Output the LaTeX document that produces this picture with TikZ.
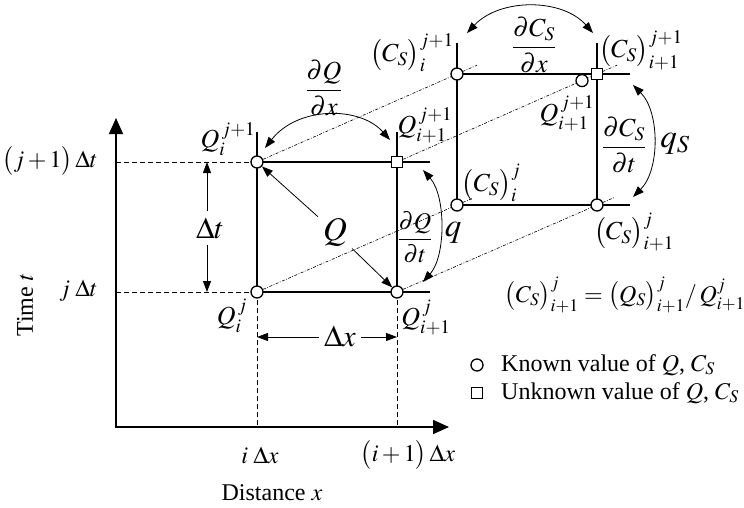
\documentclass[tikz,border=0pt]{standalone}
\usepackage{mathptmx}
\usepackage[no-math]{fontspec}
\setmainfont{Liberation Serif}
\usetikzlibrary{arrows.meta,calc}
\newcommand{\CS}{\bigl(C_S\bigr)}
\newcommand{\QS}{\bigl(Q_S\bigr)}
\begin{document}
\begin{tikzpicture}[x=1pt,y=-1pt,
  every node/.style={font=\fontsize{24}{28}\selectfont, inner sep=1pt},
  known/.style={circle,draw,fill=white,line width=1.3pt,minimum size=12pt,inner sep=0pt},
  unknown/.style={rectangle,draw,fill=white,line width=1.3pt,minimum size=11pt,inner sep=0pt},
  gridline/.style={line width=1.4pt},
  guide/.style={line width=1pt, dash pattern=on 5pt off 3pt},
  proj/.style={line width=0.6pt, dash pattern=on 3pt off 1.5pt on 0.8pt off 1.5pt},
  axis/.style={line width=1.5pt,-{Triangle[length=16pt,width=14pt]}},
  arr/.style={line width=0.8pt,-{Triangle[length=11pt,width=8pt]}},
  darr/.style={line width=0.8pt,{Triangle[length=11pt,width=8pt]}-{Triangle[length=11pt,width=8pt]}},
  midlab/.style={font=\fontsize{26}{30}\selectfont},
  biglab/.style={font=\fontsize{30}{34}\selectfont},
  hugelab/.style={font=\fontsize{33}{36}\selectfont}
]
\useasboundingbox (0,0) rectangle (744,507);

% axes
\coordinate (O) at (116,427);
\coordinate (Ytop) at (116,118);
\coordinate (Xend) at (449,427);
\draw[axis] ($(O)+(0,0.75)$) -- (Ytop);
\draw[axis] ($(O)+(-0.75,0)$) -- (Xend);

% front grid
\coordinate (A) at (257,162);
\coordinate (B) at (397,162);
\coordinate (C) at (257,292);
\coordinate (D) at (397,292);
\coordinate (At) at (257,132);
\coordinate (Bt) at (397,132);
\coordinate (Br) at (430,162);
\coordinate (Dr) at (430,292);

% back grid
\coordinate (E) at (457,74);
\coordinate (F) at (597,74);
\coordinate (G) at (457,205);
\coordinate (H) at (597,205);
\coordinate (Et) at (457,43);
\coordinate (Ft) at (597,43);
\coordinate (Fr) at (630,74);
\coordinate (Hr) at (630,205);
\coordinate (K) at ($(B)!0.925!(F)$);

% projection lines
\draw[proj] (A) -- ($(A)!1.1!(E)$);
\draw[proj] (B) -- ($(B)!1.1!(F)$);
\draw[proj] (C) -- ($(C)!1.08!(G)$);
\draw[proj] (D) -- ($(D)!1.09!(H)$);

% guides
\draw[guide] (O |- A) -- (A);
\draw[guide] (O |- C) -- (C);
\draw[guide] (C) -- (C |- O);
\draw[guide] (D) -- (D |- O);

% grid lines
\draw[gridline] (At) -- (C);
\draw[gridline] (Bt) -- (D);
\draw[gridline] (A) -- (Br);
\draw[gridline] (C) -- (Dr);
\draw[gridline] (Et) -- (G);
\draw[gridline] (Ft) -- (H);
\draw[gridline] (E) -- (Fr);
\draw[gridline] (G) -- (Hr);

% markers
\node[known] (nA) at (A) {};
\node[unknown] (nB) at (B) {};
\node[known] (nC) at (C) {};
\node[known] (nD) at (D) {};
\node[known] (nE) at (E) {};
\node[unknown] (nF) at (F) {};
\node[known] (nG) at (G) {};
\node[known] (nH) at (H) {};
\node[known] (nK) at (K) {};

% delta t / delta x
\coordinate (dtT) at (207,162);
\coordinate (dtB) at (207,292);
\node[biglab,inner ysep=6pt] (dt) at (210,228) {$\Delta t$};
\draw[arr] (dt.north -| dtT) -- (dtT);
\draw[arr] (dt.south -| dtB) -- (dtB);
\coordinate (dxL) at (257,337);
\coordinate (dxR) at (397,337);
\node[biglab,inner xsep=5pt] (dx) at (340,336) {$\Delta x$};
\draw[arr] (dx.west |- dxL) -- (dxL);
\draw[arr] (dx.east |- dxR) -- (dxR);

% Q arrows
\node[hugelab,inner sep=5pt] (Q) at (335,232) {$Q$};
\draw[arr] (Q) -- (nA);
\draw[arr] (Q) -- (nD);

% curved arrows
\coordinate (qxL) at (265,148);
\coordinate (qxR) at (390,140);
\draw[darr] (qxL) .. controls (298,106) and (360,106) .. (qxR);
\coordinate (qtT) at (423,170);
\coordinate (qtB) at (423,282);
\draw[darr] (qtT) .. controls (446,196) and (446,256) .. (qtB);
\coordinate (cxL) at (467,33);
\coordinate (cxR) at (593,33);
\draw[darr] (cxL) .. controls (500,-2) and (562,-2) .. (cxR);
\coordinate (ctT) at (633,85);
\coordinate (ctB) at (633,197);
\draw[darr] (ctT) .. controls (660,112) and (660,170) .. (ctB);

% axis labels
\node[anchor=east] (lj1) at (99,161) {$\bigl(j+1\bigr)\,\Delta t$};
\node[anchor=east] (lj) at (99,291) {$j\;\Delta t$};
\node[rotate=90] (time) at (25,305) {Time $t$};
\node (li) at (260,455) {$i\;\Delta x$};
\node (li1) at (408,455) {$\bigl(i+1\bigr)\,\Delta x$};
\node (dist) at (272,493) {Distance $x$};

% front labels
\node[midlab] (Qij1) at (228,139) {$Q_i^{\,j+1}$};
\node[midlab] (Qi1j1) at (425,125) {$Q_{i+1}^{\,j+1}$};
\node[midlab] (Qij) at (232,316) {$Q_i^{\,j}$};
\node[midlab] (Qi1j) at (426,318) {$Q_{i+1}^{\,j}$};
\node[midlab] (dQdx) at (324,88) {$\displaystyle\frac{\partial Q}{\partial x}$};
\node (dQdt) at (415,237) {$\displaystyle\frac{\partial Q}{\partial t}$};
\node[hugelab] (q) at (453,233) {$q$};

% back labels
\node[midlab] (Cij1) at (412,53) {$\CS_i^{j+1}$};
\node[midlab] (Ci1j1) at (641,50) {$\CS_{i+1}^{j+1}$};
\node[midlab] (dCdx) at (534,45) {$\displaystyle\frac{\partial C_S}{\partial x}$};
\node[midlab] (Qb) at (567,113) {$Q_{i+1}^{\,j+1}$};
\node[midlab] (dCdt) at (624,145) {$\displaystyle\frac{\partial C_S}{\partial t}$};
\node[hugelab] (qS) at (675,144) {$q_S$};
\node[midlab] (Cij) at (491,183) {$\CS_i^{j}$};
\node[midlab] (Ci1j) at (634,232) {$\CS_{i+1}^{j}$};

% formula
\node (form) at (625,295) {$\CS_{i+1}^{j} = \QS_{i+1}^{j} / \,Q_{i+1}^{j}$};

% legend
\node[known] (lk) at (477,365) {};
\node[anchor=west] (lkt) at (500,365) {Known value of $Q$, $C_S$};
\node[unknown] (lu) at (477,393) {};
\node[anchor=west] (lut) at (500,393) {Unknown value of $Q$, $C_S$};
\end{tikzpicture}
\end{document}
